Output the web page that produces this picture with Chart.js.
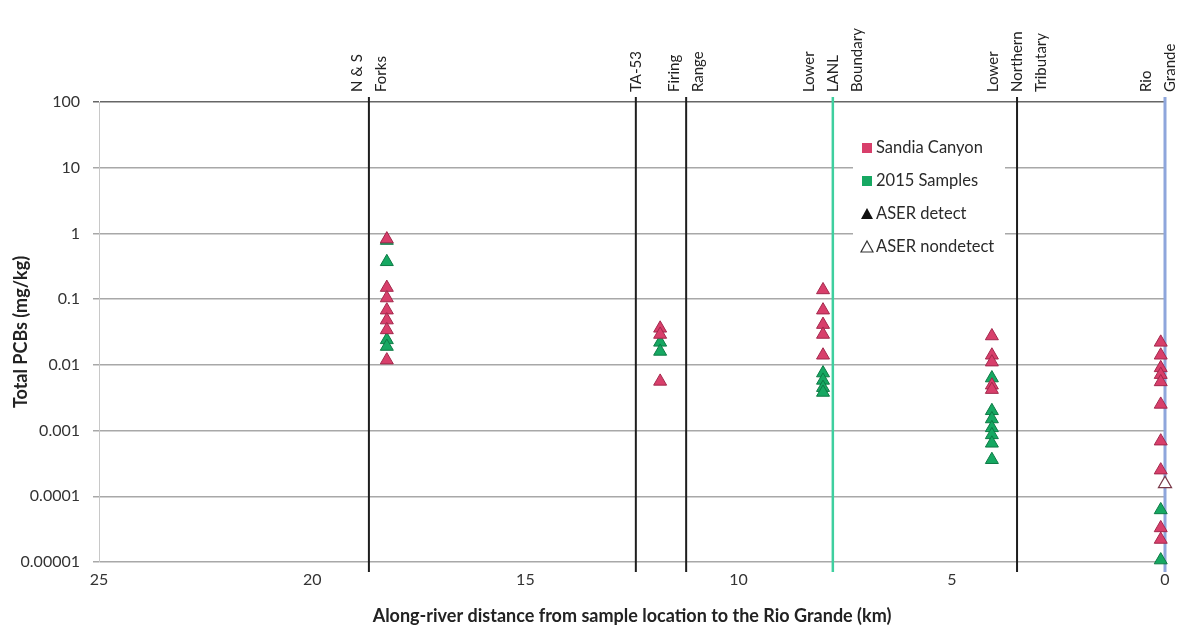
<!DOCTYPE html>
<html><head><meta charset="utf-8">
<script src="https://cdn.jsdelivr.net/npm/chart.js@4/dist/chart.umd.min.js"></script>
<style>html,body{margin:0;padding:0;background:#fff}#wrap{width:1182px;height:631px;position:relative}</style>
</head><body><div id="wrap"><canvas id="c" width="1182" height="631"></canvas></div>
<script>
// ---- data ----
const xTicks = [25, 20, 15, 10, 5, 0];
const yTicks = [0.00001, 0.0001, 0.001, 0.01, 0.1, 1, 10, 100];
const yTickLabels = ['0.00001', '0.0001', '0.001', '0.01', '0.1', '1', '10', '100'];

const landmarkKm = [18.67, 12.41, 11.23, 7.79, 3.47, 0];
const landmarkLabels = [['N & S', 'Forks'], ['TA-53'], ['Firing', 'Range'], ['Lower', 'LANL', 'Boundary'], ['Lower', 'Northern', 'Tributary'], ['Rio', 'Grande']];

const sandiaKm  = [18.25, 18.25, 18.25, 18.25, 18.25, 18.25, 18.25,
                   11.84, 11.84, 11.84,
                   8.02, 8.02, 8.02, 8.02, 8.02,
                   4.06, 4.06, 4.06, 4.06, 4.06,
                   0.1, 0.1, 0.1, 0.1, 0.1, 0.1, 0.1, 0.1, 0.1, 0.1];
const sandiaPCB = [0.82, 0.15, 0.104, 0.068, 0.048, 0.034, 0.0118,
                   0.036, 0.029, 0.0056,
                   0.138, 0.068, 0.041, 0.029, 0.014,
                   0.0275, 0.014, 0.011, 0.0049, 0.0042,
                   0.022, 0.014, 0.009, 0.0071, 0.0055, 0.0025, 0.00069, 0.00025, 0.000033, 0.000022];

const samples2015Km  = [18.25, 18.25, 18.25, 18.25,
                        11.84, 11.84,
                        8.02, 8.02, 8.02, 8.02,
                        4.06, 4.06, 4.06, 4.06, 4.06, 4.06, 4.06,
                        0.1, 0.1];
const samples2015PCB = [0.78, 0.37, 0.024, 0.019,
                        0.022, 0.016,
                        0.0075, 0.0058, 0.0045, 0.0038,
                        0.0063, 0.0020, 0.0015, 0.0011, 0.00086, 0.00064, 0.00036,
                        0.000062, 0.0000107];

const nondetectKm  = [0];
const nondetectPCB = [0.000155];

const legendLabels = ['Sandia Canyon', '2015 Samples', 'ASER detect', 'ASER nondetect'];

// ---- styles ----
const PINK = '#d83f6b', PINK_EDGE = '#a3284c';
const GREEN = '#16a862', GREEN_EDGE = '#0d7a45';
const landmarkColors = ['#1e1e1e', '#1e1e1e', '#1e1e1e', '#3fcf9f', '#1e1e1e', '#8ea6dc'];
const landmarkWidths = [2, 2, 2, 2.5, 2, 3];
const FONT = 'Lato, "Open Sans", sans-serif';

const pts = (xs, ys) => xs.map((x, i) => ({x: x, y: ys[i]}));

const landmarkPlugin = {
  id: 'landmarks',
  beforeDatasetsDraw(chart) {
    const {ctx, chartArea, scales} = chart;
    ctx.save();
    landmarkKm.forEach((km, i) => {
      const px = scales.x.getPixelForValue(km);
      ctx.strokeStyle = landmarkColors[i];
      ctx.lineWidth = landmarkWidths[i];
      ctx.beginPath();
      ctx.moveTo(px, chartArea.top - 5);
      ctx.lineTo(px, chartArea.bottom + 10);
      ctx.stroke();
    });
    ctx.restore();
  },
  afterDraw(chart) {
    const {ctx, chartArea, scales, width} = chart;
    ctx.save();
    ctx.font = '15px ' + FONT;
    ctx.fillStyle = '#222';
    ctx.textBaseline = 'middle';
    ctx.textAlign = 'left';
    const gap = 24;
    landmarkKm.forEach((km, i) => {
      const px = scales.x.getPixelForValue(km);
      const lines = landmarkLabels[i];
      const n = lines.length;
      let shift = 0;
      const lastX = px + ((n - 1) / 2) * gap;
      if (lastX > width - 12) shift = (width - 12) - lastX;
      lines.forEach((t, j) => {
        const lx = px + (j - (n - 1) / 2) * gap + shift;
        ctx.save();
        ctx.translate(lx, chartArea.top - 10);
        ctx.rotate(-Math.PI / 2);
        ctx.fillText(t, 0, 0);
        ctx.restore();
      });
    });
    // legend
    const lx0 = 853, ly0 = 128, lw = 152, lh = 134;
    ctx.fillStyle = '#ffffff';
    ctx.fillRect(lx0, ly0, lw, lh);
    const rows = [148, 181, 214, 247];
    ctx.font = '16.5px ' + FONT;
    rows.forEach((ry, k) => {
      const mx = lx0 + 14;
      if (k === 0 || k === 1) {
        ctx.fillStyle = k === 0 ? PINK : GREEN;
        ctx.fillRect(mx - 5, ry - 5, 10, 10);
      } else {
        ctx.beginPath();
        ctx.moveTo(mx, ry - 6);
        ctx.lineTo(mx + 6, ry + 5);
        ctx.lineTo(mx - 6, ry + 5);
        ctx.closePath();
        if (k === 2) { ctx.fillStyle = '#111'; ctx.fill(); }
        else { ctx.strokeStyle = '#333'; ctx.lineWidth = 1.2; ctx.stroke(); }
      }
      ctx.fillStyle = '#2a2a2a';
      ctx.textAlign = 'left';
      ctx.fillText(legendLabels[k], mx + 9, ry);
    });
    ctx.restore();
  }
};

new Chart(document.getElementById('c'), {
  type: 'scatter',
  data: {
    datasets: [
      {label: legendLabels[0], data: pts(sandiaKm, sandiaPCB), pointStyle: 'triangle', pointRadius: 7.5,
       backgroundColor: PINK, borderColor: PINK_EDGE, borderWidth: 1, clip: false},
      {label: legendLabels[1], data: pts(samples2015Km, samples2015PCB), pointStyle: 'triangle', pointRadius: 7.5,
       backgroundColor: GREEN, borderColor: GREEN_EDGE, borderWidth: 1, clip: false},
      {label: legendLabels[3], data: pts(nondetectKm, nondetectPCB), pointStyle: 'triangle', pointRadius: 7.5,
       backgroundColor: '#ffffff', borderColor: '#7a3a4a', borderWidth: 1.3, clip: false}
    ]
  },
  options: {
    responsive: false, animation: false, devicePixelRatio: 1,
    layout: {padding: {top: 102, right: 17, left: 0, bottom: 0}},
    plugins: {legend: {display: false}, tooltip: {enabled: false}},
    scales: {
      x: {
        type: 'linear', reverse: true, min: 0, max: 25,
        afterBuildTicks: s => { s.ticks = xTicks.map(v => ({value: v})); },
        afterFit: s => { s.height = 69; },
        grid: {display: false, drawTicks: false},
        border: {display: false},
        ticks: {font: {family: FONT, size: 16}, color: '#333', padding: 8, maxRotation: 0, autoSkip: false},
        title: {display: true, text: 'Along-river distance from sample location to the Rio Grande (km)',
                font: {family: FONT, size: 18, weight: 'bold'}, color: '#222', padding: {top: 0, bottom: 4}}
      },
      y: {
        type: 'logarithmic', min: 0.00001, max: 100,
        afterBuildTicks: s => { s.ticks = yTicks.map(v => ({value: v})); },
        afterFit: s => { s.width = 99; },
        grid: {color: c => (c.tick && c.tick.value === 100) ? '#666' : '#a8a8a8', lineWidth: 1.5, tickLength: 6},
        border: {color: '#c8c8c8'},
        ticks: {font: {family: FONT, size: 16}, color: '#333', padding: 13, autoSkip: false,
                callback: v => yTickLabels[yTicks.indexOf(v)]},
        title: {display: true, text: 'Total PCBs (mg/kg)', font: {family: FONT, size: 18, weight: 'bold'},
                color: '#222', padding: {top: 10, bottom: 0}}
      }
    }
  },
  plugins: [landmarkPlugin]
});
</script></body></html>
